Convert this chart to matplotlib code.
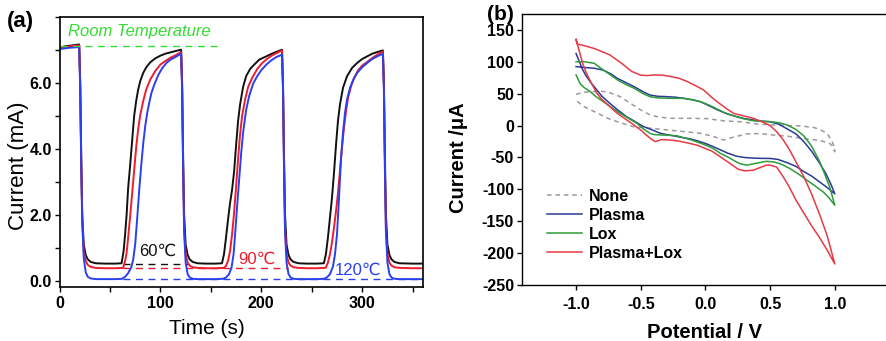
import matplotlib
matplotlib.use("Agg")
import matplotlib.pyplot as plt
from matplotlib.ticker import MultipleLocator

plt.rcParams['font.family'] = ['Liberation Sans', 'DejaVu Sans']
plt.rcParams['axes.unicode_minus'] = False

# ---- panel (a): current vs time, (t [s], I [mA]) ----
curve_60 = [(0, 7.05), (5, 7.1), (10, 7.12), (15, 7.14), (19.5, 7.16),
            (20.5, 6.0), (21.5, 3.8), (22.5, 2.0), (24, 1.1), (26, 0.78), (28, 0.65), (31, 0.57), (36, 0.53),
            (45, 0.52), (55, 0.52), (61.5, 0.53),
            (63.5, 0.9), (65, 1.4), (66.5, 2.0), (68, 2.8), (70, 3.5), (72, 4.25), (74, 5.0), (76, 5.45),
            (78, 5.8), (80, 6.05), (83, 6.3), (86, 6.47), (90, 6.62), (95, 6.74), (100, 6.82), (105, 6.88),
            (110, 6.92), (115, 6.96), (120.5, 7.0),
            (121.5, 6.0), (122.5, 3.8), (123.5, 2.0), (125, 1.1), (127, 0.78), (129, 0.65), (132, 0.57),
            (137, 0.53), (145, 0.52), (155, 0.52), (161, 0.53),
            (163, 0.8), (165, 1.3), (167, 1.85), (169, 2.35), (171, 2.75), (173, 3.3), (175, 4.1), (177, 4.85),
            (179, 5.35), (182, 5.88), (185, 6.2), (189, 6.42), (193, 6.55), (198, 6.7), (205, 6.8), (212, 6.9),
            (220.5, 7.0),
            (221.5, 6.0), (222.5, 3.8), (223.5, 2.0), (225, 1.1), (227, 0.78), (229, 0.65), (232, 0.57),
            (237, 0.53), (245, 0.52), (255, 0.52), (262, 0.53),
            (264, 0.8), (266, 1.3), (268, 1.9), (270, 2.5), (272, 3.25), (274, 4.1), (276, 4.85), (278, 5.35),
            (281, 5.85), (285, 6.2), (290, 6.45), (295, 6.6), (300, 6.72), (305, 6.8), (310, 6.88), (315, 6.93),
            (320.5, 6.98),
            (321.5, 6.0), (322.5, 3.8), (323.5, 2.0), (325, 1.1), (327, 0.78), (329, 0.65), (332, 0.57),
            (337, 0.53), (350, 0.52), (360, 0.52)]

curve_90 = [(0, 7.05), (5, 7.08), (10, 7.1), (15, 7.12), (19.5, 7.13),
            (20.5, 6.0), (21.5, 3.7), (22.5, 1.9), (24, 0.9), (26, 0.6), (28, 0.48), (31, 0.42), (36, 0.39),
            (45, 0.38), (55, 0.38), (63, 0.39),
            (65, 0.6), (66.5, 0.85), (68, 1.3), (70, 1.95), (72, 2.65), (74, 3.35), (76, 4.05), (78, 4.6),
            (80, 5.02), (83, 5.45), (86, 5.8), (90, 6.1), (95, 6.36), (100, 6.55), (105, 6.66), (110, 6.76),
            (115, 6.83), (120.5, 6.93),
            (121.5, 5.9), (122.5, 3.5), (123.5, 1.6), (125, 0.8), (127, 0.55), (129, 0.46), (132, 0.41),
            (137, 0.39), (145, 0.38), (155, 0.38), (163, 0.39),
            (165, 0.45), (167, 0.6), (169, 0.9), (171, 1.4), (173, 2.05), (175, 2.85), (177, 3.7), (179, 4.45),
            (181, 5.0), (184, 5.5), (187, 5.88), (191, 6.15), (196, 6.42), (201, 6.6), (206, 6.73), (211, 6.83),
            (216, 6.91), (220.5, 6.98),
            (221.5, 5.9), (222.5, 3.5), (223.5, 1.6), (225, 0.8), (227, 0.55), (229, 0.46), (232, 0.41),
            (237, 0.39), (245, 0.38), (255, 0.38), (263, 0.39),
            (264, 0.4), (266, 0.55), (268, 0.8), (270, 1.15), (272, 1.6), (274, 2.1), (276, 2.66), (278, 3.35),
            (280, 4.05), (282, 4.65), (284, 5.15), (286, 5.55), (289, 5.9), (292, 6.15), (296, 6.38),
            (300, 6.52), (305, 6.63), (310, 6.75), (315, 6.85), (320.5, 6.95),
            (321.5, 5.9), (322.5, 3.5), (323.5, 1.6), (325, 0.8), (327, 0.55), (329, 0.46), (332, 0.41),
            (337, 0.39), (350, 0.38), (360, 0.38)]

curve_120 = [(0, 7.02), (5, 7.04), (10, 7.06), (15, 7.07), (19.5, 7.08),
             (20.5, 5.8), (21.5, 3.5), (22.5, 1.8), (24, 0.7), (26, 0.25), (28, 0.12), (31, 0.07), (36, 0.05),
             (45, 0.05), (55, 0.05), (62, 0.06),
             (65, 0.12), (68, 0.23), (71, 0.4), (73, 0.64), (75, 1.1), (77, 1.9), (79, 2.75), (81, 3.5),
             (83, 4.17), (85, 4.7), (87, 5.1), (89, 5.4), (91, 5.68), (94, 5.95), (98, 6.24), (102, 6.45),
             (106, 6.6), (110, 6.7), (115, 6.78), (120.5, 6.88),
             (121.5, 5.8), (122.5, 3.4), (123.5, 1.5), (125, 0.55), (127, 0.2), (129, 0.1), (132, 0.06),
             (137, 0.05), (145, 0.05), (155, 0.05), (162, 0.06),
             (165, 0.1), (168, 0.2), (170.5, 0.4), (172.5, 0.8), (174, 1.4), (176, 2.25), (178, 3.05),
             (180, 3.85), (182, 4.5), (185, 5.18), (188, 5.6), (192, 5.98), (196, 6.2), (200, 6.38),
             (205, 6.55), (210, 6.68), (215, 6.78), (220.5, 6.85),
             (221.5, 5.8), (222.5, 3.4), (223.5, 1.5), (225, 0.55), (227, 0.2), (229, 0.1), (232, 0.06),
             (237, 0.05), (245, 0.05), (255, 0.05), (262, 0.06),
             (265, 0.1), (268, 0.2), (271, 0.43), (273, 0.8), (275, 1.4), (277, 2.5), (279, 3.7), (281, 4.5),
             (283, 5.1), (285, 5.5), (288, 5.85), (291, 6.08), (295, 6.3), (300, 6.47), (305, 6.6),
             (310, 6.72), (315, 6.8), (320.5, 6.88),
             (321.5, 5.8), (322.5, 3.4), (323.5, 1.5), (325, 0.55), (327, 0.2), (329, 0.1), (332, 0.06),
             (337, 0.05), (350, 0.05), (360, 0.05)]

room_level = 7.12
room_span = (0, 157)
base_levels = {'60℃': 0.52, '90℃': 0.38, '120℃': 0.05}
base_spans = {'60℃': (63, 127), '90℃': (63, 226), '120℃': (63, 360)}
label_pos = {'60℃': (79, 0.88), '90℃': (177, 0.64), '120℃': (273, 0.33)}

# ---- panel (b): cyclic voltammograms, (E [V], I [uA]) ----
cv_none = [(-1.0, 49), (-0.95, 52), (-0.89, 53), (-0.82, 54), (-0.76, 53), (-0.66, 45.5), (-0.58, 35),
           (-0.50, 24.5), (-0.44, 18), (-0.375, 14), (-0.3, 12), (-0.25, 11.4), (-0.12, 11.4), (0.01, 11),
           (0.14, 7.5), (0.27, 6), (0.40, 2.6), (0.52, 1), (0.65, 0), (0.70, 0), (0.78, -1.6), (0.84, -3),
           (0.88, -6), (0.92, -10), (0.95, -15), (0.97, -22), (0.99, -30), (1.0, -41),
           (0.98, -32), (0.96, -28), (0.93, -26), (0.88, -23), (0.78, -21), (0.65, -17), (0.52, -14.7),
           (0.42, -12.5), (0.32, -13), (0.22, -18), (0.14, -22.5), (0.06, -17), (-0.04, -12), (-0.17, -9.3),
           (-0.30, -6.7), (-0.43, -4), (-0.56, -1.6), (-0.68, 6), (-0.75, 11), (-0.81, 17), (-0.88, 24),
           (-0.94, 30), (-0.98, 36), (-1.0, 40)]

cv_plasma = [(-1.0, 92.5), (-0.93, 91), (-0.86, 90), (-0.79, 87), (-0.73, 81), (-0.68, 74), (-0.61, 67),
             (-0.55, 61), (-0.49, 54), (-0.43, 48), (-0.37, 46), (-0.30, 45.4), (-0.23, 44.5), (-0.17, 42.8),
             (-0.10, 40.5), (-0.04, 37.6), (0.03, 31), (0.09, 25), (0.16, 19), (0.24, 14), (0.3, 11),
             (0.37, 8.8), (0.44, 7), (0.5, 6), (0.57, 2), (0.63, -5), (0.7, -13), (0.76, -25), (0.82, -40),
             (0.88, -58), (0.93, -75), (0.97, -92), (1.0, -107),
             (0.94, -97), (0.88, -88), (0.82, -79), (0.76, -72), (0.7, -64), (0.63, -58), (0.56, -53),
             (0.5, -51.5), (0.43, -51.4), (0.37, -51), (0.3, -50), (0.24, -48), (0.17, -43), (0.115, -38),
             (0.06, -33), (0.0, -28), (-0.06, -24), (-0.115, -21), (-0.17, -19), (-0.22, -17), (-0.29, -14.5),
             (-0.35, -12), (-0.42, -6), (-0.48, -1.5), (-0.55, 7), (-0.61, 14), (-0.68, 25), (-0.74, 35),
             (-0.80, 46), (-0.84, 56), (-0.88, 66), (-0.92, 77), (-0.95, 88), (-0.97, 98), (-1.0, 113)]

cv_lox = [(-1.0, 100), (-0.94, 100.3), (-0.86, 97.7), (-0.79, 87.3), (-0.73, 79), (-0.68, 71.6), (-0.61, 64),
          (-0.55, 58.5), (-0.49, 51), (-0.43, 45.4), (-0.37, 43.5), (-0.30, 42.8), (-0.23, 42.8), (-0.17, 42.8),
          (-0.10, 40.5), (-0.04, 37.6), (0.03, 32), (0.09, 26), (0.16, 19), (0.24, 14), (0.3, 10.5),
          (0.37, 7.5), (0.44, 6.5), (0.5, 6.2), (0.57, 4.5), (0.63, 1), (0.7, -6), (0.76, -16), (0.82, -32),
          (0.88, -55), (0.92, -75), (0.96, -96), (1.0, -125),
          (0.95, -112), (0.91, -104), (0.85, -95), (0.78, -85), (0.72, -76), (0.65, -67), (0.58, -60),
          (0.53, -57), (0.47, -56), (0.42, -58), (0.37, -60), (0.32, -62), (0.27, -60), (0.24, -57),
          (0.18, -50), (0.115, -43.5), (0.06, -36), (0.0, -30.4), (-0.06, -26), (-0.115, -22), (-0.17, -19),
          (-0.22, -16), (-0.29, -15), (-0.35, -14.7), (-0.40, -14), (-0.43, -12), (-0.48, -5), (-0.53, 3.6),
          (-0.6, 12), (-0.66, 19.3), (-0.73, 29), (-0.79, 37.6), (-0.85, 46), (-0.89, 53.3), (-0.94, 60),
          (-0.97, 66.4), (-1.0, 79.4)]

cv_plasma_lox = [(-1.0, 135), (-0.99, 128), (-0.93, 125), (-0.86, 121), (-0.74, 111), (-0.65, 98),
                 (-0.57, 85), (-0.50, 79), (-0.45, 78.5), (-0.40, 79.4), (-0.33, 79), (-0.27, 77), (-0.2, 74),
                 (-0.14, 69), (-0.08, 63), (-0.015, 56), (0.05, 44), (0.1, 36), (0.16, 27), (0.22, 19),
                 (0.3, 15), (0.37, 11.5), (0.45, 5), (0.5, 0), (0.55, -9.5), (0.6, -22), (0.65, -38),
                 (0.7, -57), (0.76, -80), (0.82, -107), (0.88, -138), (0.94, -172), (1.0, -217),
                 (0.94, -195), (0.88, -175), (0.82, -157), (0.76, -137), (0.7, -117), (0.65, -97), (0.6, -80),
                 (0.55, -65), (0.5, -62), (0.47, -62), (0.42, -66), (0.37, -70), (0.3, -71), (0.25, -68),
                 (0.18, -58), (0.115, -49), (0.05, -40), (0.0, -36), (-0.06, -31), (-0.12, -28), (-0.2, -24.5),
                 (-0.28, -22.5), (-0.34, -22), (-0.37, -24), (-0.39, -25), (-0.42, -21), (-0.45, -16),
                 (-0.50, -7), (-0.56, 2), (-0.61, 9), (-0.68, 19), (-0.74, 30), (-0.80, 41), (-0.84, 51),
                 (-0.88, 66), (-0.92, 82), (-0.95, 98), (-0.97, 113), (-1.0, 135)]

fig = plt.figure(figsize=(8.87, 3.41), dpi=100)

# ---------------- (a) ----------------
ax1 = fig.add_axes([0.0671, 0.1592, 0.4095, 0.7918])
colors_a = {'60℃': '#111111', '90℃': '#ee1c2c', '120℃': '#2a3ff0'}
for name, data in [('60℃', curve_60), ('90℃', curve_90), ('120℃', curve_120)]:
    t, cur = zip(*data)
    ax1.plot(t, cur, color=colors_a[name], lw=1.4)
    ax1.hlines(base_levels[name], *base_spans[name], colors=colors_a[name], lw=1.0,
               linestyles=(0, (5, 4)))
    ax1.text(*label_pos[name], name, color=colors_a[name], fontsize=12, ha='left', va='center')

ax1.hlines(room_level, *room_span, colors='#33dd33', lw=1.0, linestyles=(0, (5, 4)))
ax1.text(8.5, 7.55, 'Room Temperature', color='#33dd33', fontsize=12, style='italic',
         ha='left', va='center')

ax1.set_xlim(0, 360)
ax1.set_ylim(-0.18, 8.0)
ax1.xaxis.set_major_locator(MultipleLocator(100))
ax1.xaxis.set_minor_locator(MultipleLocator(50))
ax1.yaxis.set_major_locator(MultipleLocator(2))
ax1.yaxis.set_minor_locator(MultipleLocator(1))
ax1.set_yticks([0, 2, 4, 6])
ax1.set_yticklabels(['0.0', '2.0', '4.0', '6.0'])
ax1.tick_params(which='both', direction='out', length=3.5, width=1.0, labelsize=11.5, pad=2)
ax1.tick_params(axis='x', which='both', pad=3)
for lab in ax1.get_xticklabels() + ax1.get_yticklabels():
    lab.set_fontweight('bold')
for sp in ax1.spines.values():
    sp.set_linewidth(1.2)
ax1.set_xlabel('Time (s)', fontsize=15, va='top')
ax1.xaxis.set_label_coords(0.406, -0.118)
ax1.set_ylabel('Current (mA)', fontsize=16)
ax1.yaxis.set_label_coords(-0.083, 0.447)

# ---------------- (b) ----------------
ax2 = fig.add_axes([0.5882, 0.1642, 0.4113, 0.7947])
ax2.plot(*zip(*cv_none), color='#9a9a9a', lw=1.1, ls=(0, (3, 2.5)), label='None')
ax2.plot(*zip(*cv_plasma), color='#2b3a94', lw=1.1, label='Plasma')
ax2.plot(*zip(*cv_lox), color='#2e9c3a', lw=1.1, label='Lox')
ax2.plot(*zip(*cv_plasma_lox), color='#e63a44', lw=1.1, label='Plasma+Lox')

ax2.set_xlim(-1.42, 1.40)
ax2.set_ylim(-250, 175)
ax2.set_xticks([-1.0, -0.5, 0.0, 0.5, 1.0])
ax2.set_xticklabels(['-1.0', '-0.5', '0.0', '0.5', '1.0'])
ax2.set_yticks(range(-250, 151, 50))
ax2.tick_params(direction='out', length=3.5, width=1.0, labelsize=11.5, pad=2)
ax2.tick_params(axis='x', pad=5)
for lab in ax2.get_xticklabels() + ax2.get_yticklabels():
    lab.set_fontweight('bold')
for sp in ax2.spines.values():
    sp.set_linewidth(1.0)
ax2.set_xlabel('Potential / V', fontsize=14.5, fontweight='bold', va='top')
ax2.xaxis.set_label_coords(0.5, -0.14)
ax2.set_ylabel('Current /μA', fontsize=14.5, fontweight='bold')
ax2.yaxis.set_label_coords(-0.147, 0.469)
ax2.legend(loc='upper left', bbox_to_anchor=(0.069, 0.354), frameon=False, borderpad=0,
           borderaxespad=0, handlelength=2.2, handletextpad=0.4, labelspacing=0.25,
           prop={'weight': 'bold', 'size': 11.5})

fig.text(20 / 887, 1 - 21 / 341, '(a)', fontsize=16, fontweight='bold', ha='center', va='center')
fig.text(500 / 887, 1 - 14 / 341, '(b)', fontsize=15, fontweight='bold', ha='center', va='center')

fig.savefig('out.png', dpi=100)
